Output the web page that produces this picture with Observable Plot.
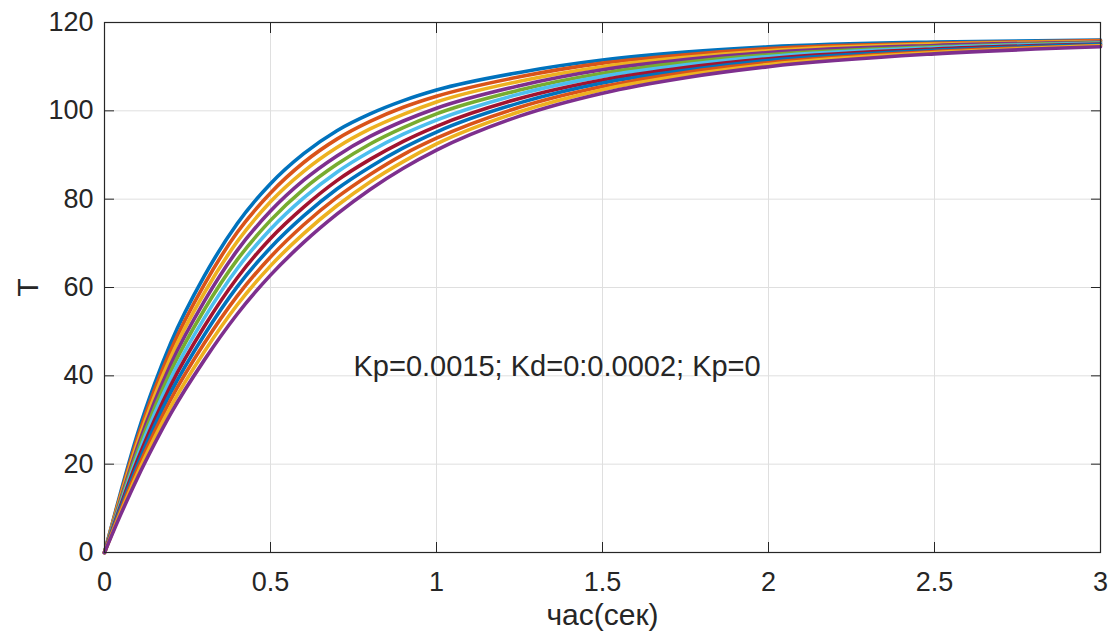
<!DOCTYPE html>
<html>
<head>
<meta charset="utf-8">
<script src="https://cdn.jsdelivr.net/npm/d3@7"></script>
<script src="https://cdn.jsdelivr.net/npm/@observablehq/plot@0.6"></script>
<style>
  html, body { margin: 0; padding: 0; background: #ffffff; }
  #chart svg { display: block; }
</style>
</head>
<body>
<div id="chart"></div>
<script>
// Time samples (seconds)
const times = [0, 0.05, 0.1, 0.15, 0.2, 0.3, 0.4, 0.5, 0.6, 0.7, 0.8, 0.9, 1.0, 1.25, 1.5, 1.75, 2.0, 2.5, 3.0];

// Kd values (one curve each)
const kdValues = ["0", "0.0002", "0.0004", "0.0006", "0.0008", "0.001", "0.0012", "0.0014", "0.0016", "0.0018", "0.002"];

// Temperature curves (top curve first)
const curveKd0    = [0, 14, 27, 38, 47.5, 62.5, 74.5, 83.5, 90.3, 95.5, 99.3, 102.3, 104.7, 108.7, 111.5, 113.3, 114.5, 115.6, 116];
const curveKd0002 = [0, 13.5, 26, 36.7, 45.9, 60.6, 72.5, 81.4, 88.3, 93.6, 97.6, 100.8, 103.3, 107.7, 110.8, 112.7, 114.1, 115.3, 115.9];
const curveKd0004 = [0, 13.0, 25, 35.3, 44.3, 58.7, 70.4, 79.4, 86.3, 91.7, 95.9, 99.2, 102.0, 106.7, 110.0, 112.1, 113.6, 115.1, 115.7];
const curveKd0006 = [0, 12.4, 24, 34.0, 42.7, 56.8, 68.4, 77.3, 84.3, 89.8, 94.2, 97.7, 100.6, 105.7, 109.3, 111.6, 113.2, 114.8, 115.6];
const curveKd0008 = [0, 11.9, 23, 32.6, 41.1, 54.9, 66.3, 75.2, 82.3, 87.9, 92.5, 96.2, 99.3, 104.7, 108.5, 111.0, 112.7, 114.5, 115.4];
const curveKd0010 = [0, 11.4, 22, 31.3, 39.5, 53.0, 64.3, 73.2, 80.3, 86.1, 90.8, 94.7, 97.9, 103.8, 107.8, 110.4, 112.3, 114.3, 115.3];
const curveKd0012 = [0, 10.9, 21, 29.9, 37.9, 51.1, 62.2, 71.1, 78.2, 84.2, 89.0, 93.1, 96.5, 102.8, 107.0, 109.8, 111.8, 114.0, 115.1];
const curveKd0014 = [0, 10.4, 20, 28.6, 36.3, 49.2, 60.2, 69.0, 76.2, 82.3, 87.3, 91.6, 95.2, 101.8, 106.3, 109.2, 111.4, 113.7, 115.0];
const curveKd0016 = [0, 9.8, 19, 27.2, 34.7, 47.3, 58.1, 66.9, 74.2, 80.4, 85.6, 90.1, 93.8, 100.8, 105.5, 108.7, 110.9, 113.4, 114.8];
const curveKd0018 = [0, 9.3, 18, 25.9, 33.1, 45.4, 56.1, 64.9, 72.2, 78.5, 83.9, 88.5, 92.5, 99.8, 104.8, 108.1, 110.5, 113.2, 114.7];
const curveKd0020 = [0, 8.8, 17, 24.5, 31.5, 43.5, 54.0, 62.8, 70.2, 76.6, 82.2, 87.0, 91.1, 98.8, 104.0, 107.5, 110.0, 112.9, 114.5];

const curves = [curveKd0, curveKd0002, curveKd0004, curveKd0006, curveKd0008, curveKd0010,
                curveKd0012, curveKd0014, curveKd0016, curveKd0018, curveKd0020];

// MATLAB default color order (cycles)
const lineColors = ["#0072BD", "#D95319", "#EDB120", "#7E2F8E", "#77AC30", "#4DBEEE", "#A2142F",
                    "#0072BD", "#D95319", "#EDB120", "#7E2F8E"];

// Ticks and labels
const xTicks = [0, 0.5, 1, 1.5, 2, 2.5, 3];
const xTickLabels = ["0", "0.5", "1", "1.5", "2", "2.5", "3"];
const yTicks = [0, 20, 40, 60, 80, 100, 120];
const yTickLabels = ["0", "20", "40", "60", "80", "100", "120"];
const xLabel = "час(сек)";
const yLabel = "T";
const annotation = "Kp=0.0015; Kd=0:0.0002; Kp=0";

// Build long-format table
const rows = [];
curves.forEach((vals, k) => {
  vals.forEach((v, j) => rows.push({t: times[j], T: v, kd: kdValues[k]}));
});

const ink = "#262626";
const font = "'Liberation Sans', Arial, Helvetica, sans-serif";

const chart = Plot.plot({
  width: 1113,
  height: 641,
  marginLeft: 104,
  marginRight: 13,
  marginTop: 22,
  marginBottom: 89,
  style: {fontFamily: font, color: ink, background: "#ffffff", overflow: "visible"},
  x: {domain: [0, 3]},
  y: {domain: [0, 120]},
  color: {domain: kdValues, range: lineColors},
  marks: [
    Plot.gridX(xTicks, {stroke: "#dfdfdf", strokeOpacity: 1, strokeWidth: 1}),
    Plot.gridY(yTicks, {stroke: "#dfdfdf", strokeOpacity: 1, strokeWidth: 1}),
    Plot.line(rows, {x: "t", y: "T", z: "kd", stroke: "kd", strokeWidth: 3.6, curve: "monotone-x"}),
    Plot.frame({stroke: ink, strokeWidth: 1.2}),
    Plot.axisX(xTicks, {anchor: "bottom", tickSize: 0, tickPadding: 19, fontSize: 27, fill: ink,
      tickFormat: d => xTickLabels[xTicks.indexOf(d)],
      label: xLabel, labelAnchor: "center", labelArrow: "none", labelOffset: 72}),
    Plot.axisX(xTicks, {anchor: "bottom", tickSize: -10, text: null, label: null, stroke: ink}),
    Plot.axisX(xTicks, {anchor: "top", tickSize: -10, text: null, label: null, stroke: ink}),
    Plot.axisY(yTicks, {anchor: "left", tickSize: 0, tickPadding: 11, fontSize: 27, fill: ink,
      tickFormat: d => yTickLabels[yTicks.indexOf(d)],
      label: yLabel, labelAnchor: "center", labelArrow: "none", labelOffset: 88}),
    Plot.axisY(yTicks, {anchor: "left", tickSize: -10, text: null, label: null, stroke: ink}),
    Plot.axisY(yTicks, {anchor: "right", tickSize: -10, text: null, label: null, stroke: ink}),
    Plot.text([annotation], {x: 0.75, y: 42, text: d => d, textAnchor: "start", fontSize: 29, fill: ink})
  ]
});

document.getElementById("chart").appendChild(chart);
// axis titles are slightly larger than tick labels
chart.querySelectorAll("g[aria-label='x-axis label'] text, g[aria-label='y-axis label'] text").forEach(t => t.setAttribute("font-size", "30"));
</script>
</body>
</html>
